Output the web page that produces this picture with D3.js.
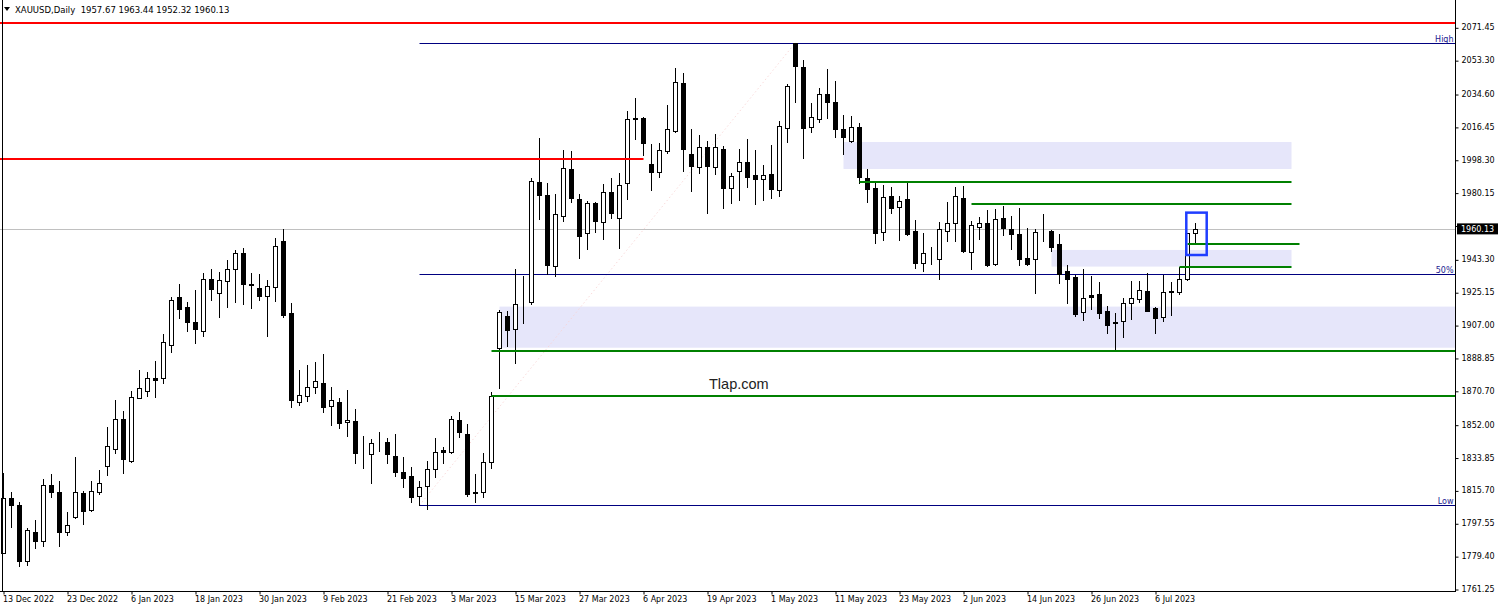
<!DOCTYPE html>
<html><head><meta charset="utf-8">
<script src="https://cdn.jsdelivr.net/npm/d3@7"></script>
<style>html,body{margin:0;padding:0;background:#fff;overflow:hidden}svg{display:block}</style>
</head><body>
<svg id="c" width="1501" height="612"></svg>
<script>
// ---- DATA ----
const title = "XAUUSD,Daily";
const lastOHLC = ["1957.67", "1963.44", "1952.32", "1960.13"];
const opens = [1781.3,1811.3,1807.6,1776.9,1792.6,1787.9,1818.7,1814.6,1792.9,1801.2,1814.1,1804.9,1815.0,1829.4,1838.8,1855.0,1832.1,1866.6,1870.8,1877.6,
1877.6,1895.8,1922.3,1916.8,1908.5,1903.5,1932.3,1924.5,1931.2,1937.8,1946.6,1929.5,1927.3,1923.0,1927.8,1953.4,1913.5,1864.7,1868.0,1873.0,
1874.8,1862.5,1864.3,1853.5,1854.0,1836.7,1835.8,1841.7,1842.6,1834.9,1825.7,1823.5,1812.6,1818.1,1827.4,1838.0,1836.7,1854.6,1846.9,1814.6,
1814.6,1831.2,1894.2,1912.0,1904.7,1919.9,1919.9,1986.0,1978.8,1939.8,1967.4,1993.2,1976.6,1957.7,1974.6,1964.1,1980.3,1966.3,1985.3,2021.5,
2021.5,1995.9,1991.3,2003.3,2014.2,2040.5,2001.5,1994.5,2005.2,1994.1,2004.3,1982.6,1992.3,1996.9,1989.9,1987.5,1990.3,1981.6,2016.0,2062.6,
2049.3,2016.2,2020.6,2034.6,2030.0,2015.3,2008.7,2016.2,1988.0,1982.5,1958.2,1978.3,1972.0,1976.4,1959.0,1941.1,1943.5,1943.3,1959.1,1963.6,
1977.0,1947.6,1961.4,1963.2,1940.5,1966.0,1959.9,1957.1,1943.9,1943.3,1957.9,1958.9,1951.8,1936.9,1933.4,1914.4,1923.4,1924.0,1914.8,1908.5,
1909.3,1919.0,1921.2,1925.8,1916.3,1911.3,1925.8,1925.5,1932.3,1957.67];
const highs = [1825.1,1814.6,1809.1,1794.8,1799.4,1822.0,1824.6,1820.9,1803.6,1833.9,1815.6,1820.9,1827.0,1850.5,1865.6,1859.4,1870.6,1882.2,1880.9,1887.2,
1902.1,1922.3,1929.7,1919.9,1926.4,1935.9,1938.0,1936.5,1942.9,1948.4,1949.4,1935.9,1935.2,1931.9,1955.3,1960.1,1919.0,1882.2,1884.9,1886.8,
1891.0,1873.0,1867.0,1871.1,1860.5,1845.8,1843.9,1847.8,1844.5,1846.7,1834.4,1828.5,1820.9,1831.9,1844.8,1839.5,1856.8,1858.8,1852.4,1824.8,
1836.2,1870.2,1915.3,1914.8,1937.8,1934.1,1988.0,2010.5,1985.7,1979.4,2003.7,2003.2,1979.4,1975.5,1975.2,1984.9,1988.0,1991.1,2025.2,2032.6,
2022.1,2006.8,2007.4,2028.5,2048.8,2046.0,2015.3,2012.0,2008.7,2012.5,2005.9,1990.8,2004.2,2009.8,2003.7,1995.4,2006.5,2019.9,2039.9,2063.0,
2053.4,2029.8,2037.8,2048.4,2041.8,2023.0,2022.5,2018.4,1993.2,1986.2,1984.4,1983.1,1978.3,1985.7,1965.0,1957.7,1949.9,1963.8,1974.8,1983.1,
1983.8,1964.5,1966.5,1970.6,1970.9,1973.0,1967.2,1971.5,1960.4,1959.9,1968.2,1959.5,1957.3,1940.2,1934.7,1938.0,1934.1,1930.6,1917.5,1913.5,
1922.1,1931.3,1931.3,1935.9,1916.8,1934.7,1931.0,1939.3,1958.0,1963.44];
const lows = [1781.0,1795.7,1774.1,1774.5,1784.1,1785.2,1812.3,1785.2,1791.1,1800.6,1797.2,1804.5,1813.7,1824.2,1836.6,1825.5,1831.6,1866.6,1868.0,1867.5,
1875.2,1892.3,1911.1,1903.9,1896.9,1901.2,1920.9,1911.6,1917.2,1919.9,1918.6,1916.6,1920.9,1901.2,1920.5,1911.6,1861.9,1862.9,1865.3,1869.3,
1859.2,1852.0,1850.0,1846.0,1831.0,1827.9,1819.6,1837.5,1830.7,1823.9,1817.8,1809.5,1807.5,1805.3,1823.3,1831.0,1836.2,1845.4,1812.8,1809.5,
1812.3,1827.9,1872.1,1895.6,1885.9,1908.3,1918.5,1965.6,1935.0,1934.3,1964.6,1975.2,1944.2,1949.0,1958.6,1954.5,1965.9,1949.8,1976.6,2009.8,
2000.9,1981.6,1988.6,2001.9,2013.8,1992.1,1981.1,1991.2,1969.1,1990.4,1971.9,1974.2,1976.1,1983.5,1973.9,1976.1,1977.4,1978.5,2008.3,2030.4,
1999.5,2013.8,2019.3,2021.6,2011.1,2001.3,2008.3,1985.6,1975.2,1952.2,1954.0,1969.1,1954.0,1956.8,1938.7,1937.1,1940.6,1932.3,1953.6,1953.6,
1947.5,1938.0,1954.5,1939.6,1940.2,1956.8,1949.0,1940.2,1940.2,1924.9,1953.6,1948.1,1930.1,1919.4,1912.0,1909.8,1915.7,1911.1,1902.8,1892.9,
1900.6,1910.2,1919.9,1915.0,1902.8,1909.4,1912.6,1924.2,1931.9,1952.32];
const closes = [1811.3,1807.6,1776.9,1793.8,1787.9,1818.7,1815.0,1792.9,1796.6,1814.6,1804.5,1815.4,1819.6,1840.0,1855.0,1833.2,1867.1,1872.1,1877.6,1876.7,
1897.5,1920.7,1915.7,1908.5,1904.6,1932.3,1927.1,1931.7,1937.8,1946.6,1929.5,1928.9,1923.2,1928.6,1950.7,1912.6,1865.6,1868.4,1872.6,1876.1,
1861.6,1865.6,1853.0,1854.5,1836.5,1836.9,1842.1,1841.8,1835.6,1825.7,1822.7,1811.9,1817.8,1827.4,1837.1,1836.7,1855.0,1847.8,1813.7,1814.1,
1831.2,1867.8,1914.0,1904.1,1918.5,1919.6,1986.6,1978.8,1940.1,1968.2,1993.6,1977.4,1956.4,1974.2,1964.6,1980.3,1969.1,1984.4,2020.8,2020.6,
2007.7,1991.3,2003.7,2015.3,2041.1,2004.2,1995.0,2005.1,1995.0,2005.2,1982.9,1989.3,1996.9,1989.0,1987.7,1989.7,1982.2,2016.9,2039.0,2050.3,
2016.0,2021.7,2034.4,2030.0,2015.1,2010.7,2016.2,1988.6,1982.0,1957.7,1977.5,1971.8,1975.3,1957.3,1941.1,1946.6,1943.3,1959.9,1963.2,1978.3,
1948.1,1962.1,1963.2,1940.2,1965.4,1960.8,1957.1,1943.3,1940.6,1958.2,1957.7,1950.3,1935.2,1932.5,1913.1,1921.8,1922.7,1913.5,1907.1,1908.0,
1919.4,1921.8,1926.4,1915.0,1910.7,1925.1,1925.1,1932.3,1957.7,1960.13];

const priceTicks = ["2071.45","2053.30","2034.60","2016.45","1998.30","1980.15","1962.00","1943.30","1925.15","1907.00","1888.85","1870.70","1852.00","1833.85","1815.70","1797.55","1779.40","1761.25"];
const dateLabels = ["13 Dec 2022","23 Dec 2022","6 Jan 2023","18 Jan 2023","30 Jan 2023","9 Feb 2023","21 Feb 2023","3 Mar 2023","15 Mar 2023","27 Mar 2023","6 Apr 2023","19 Apr 2023","1 May 2023","11 May 2023","23 May 2023","2 Jun 2023","14 Jun 2023","26 Jun 2023","6 Jul 2023"];
const dateLabelBars = [0,8,16,24,32,40,48,56,64,72,80,88,96,104,112,120,128,136,144];

// chart objects: [price, startBar, endBar] (endBar null = to right edge)
const redLevels = [[2074.1, null, null], [1998.7, null, 80]];
const greenLevels = [[1986.1, 107, 161], [1973.7, 121, 161], [1951.6, 148, 162], [1939.3, 147, 161], [1892.9, 61, null], [1868.0, 61, null]];
const zones = [[2008.1, 1993.2, 105, 161], [1948.5, 1939.3, 131, 161], [1917.2, 1894.5, 62, null]];
const fibLow = [52, 1807.5], fibHigh = [99, 2063.0];
const fibLevels = [["High", 1], ["50%", 0.5], ["Low", 0]];
const currentPrice = 1960.13;
const boxBars = [147.85, 150.4], boxPrices = [1969.1, 1945.7];
const watermark = "Tlap.com";

// ---- DRAW ----
const svg = d3.select("#c");
const plotR = 1455.5, plotB = 591.5;
const x = d3.scaleLinear().domain([0, 149]).range([3.5, 3.5 + 8 * 149]);
const y = d3.scaleLinear().domain([1761.25, 2071.45]).range([589, 27.3]);
const py = p => Math.round(y(p)) + 0.5;
const xs = b => b === null ? plotR : x(b);
const font = "DejaVu Sans, Verdana, sans-serif";

svg.append("defs").append("clipPath").attr("id", "pc")
  .append("rect").attr("x", 0).attr("y", 0).attr("width", plotR).attr("height", plotB);
const g = svg.append("g").attr("clip-path", "url(#pc)");

// zones
g.selectAll("rect.zone").data(zones).enter().append("rect")
  .attr("x", d => xs(d[2])).attr("width", d => xs(d[3]) - xs(d[2]))
  .attr("y", d => y(d[0])).attr("height", d => y(d[1]) - y(d[0]))
  .attr("fill", "#e6e6fa");

// current price line
g.append("line").attr("x1", 0).attr("x2", plotR).attr("y1", py(currentPrice)).attr("y2", py(currentPrice))
  .attr("stroke", "#c0c0c0").attr("stroke-width", 1);

// fibo diagonal (faint dotted)
g.append("line").attr("x1", x(fibLow[0])).attr("y1", y(fibLow[1])).attr("x2", x(fibHigh[0])).attr("y2", y(fibHigh[1]))
  .attr("stroke", "#f7d2d2").attr("stroke-width", 0.8).attr("stroke-dasharray", "1.5,2.5");

// fibo levels
fibLevels.forEach(([lab, r]) => {
  const p = fibLow[1] + (fibHigh[1] - fibLow[1]) * r;
  g.append("line").attr("x1", x(fibLow[0])).attr("x2", plotR).attr("y1", py(p)).attr("y2", py(p))
    .attr("stroke", "#000080").attr("stroke-width", 1);
  g.append("text").attr("x", plotR - 2).attr("y", py(p) - 2).attr("text-anchor", "end")
    .attr("font-family", font).attr("font-size", 8).attr("fill", "#1a1a90").text(lab);
});

// candles
const idx = d3.range(closes.length);
const cg = g.append("g");
cg.selectAll("line.wick").data(idx).enter().append("line")
  .attr("x1", i => x(i)).attr("x2", i => x(i))
  .attr("y1", i => Math.round(y(highs[i]))).attr("y2", i => Math.round(y(lows[i])) + 1)
  .attr("stroke", "#000").attr("stroke-width", 1);
cg.selectAll("rect.body").data(idx).enter().append("rect")
  .attr("x", i => x(i) - 2)
  .attr("width", 4)
  .attr("y", i => py(Math.max(opens[i], closes[i])))
  .attr("height", i => Math.max(0, py(Math.min(opens[i], closes[i])) - py(Math.max(opens[i], closes[i]))))
  .attr("fill", i => closes[i] >= opens[i] ? "#fff" : "#000")
  .attr("stroke", "#000").attr("stroke-width", 1);

// red lines
g.selectAll("line.red").data(redLevels).enter().append("line")
  .attr("x1", d => d[1] === null ? 0 : x(d[1])).attr("x2", d => xs(d[2]))
  .attr("y1", d => Math.round(y(d[0]))).attr("y2", d => Math.round(y(d[0])))
  .attr("stroke", "#ff0000").attr("stroke-width", 2);

// green lines
g.selectAll("line.green").data(greenLevels).enter().append("line")
  .attr("x1", d => x(d[1])).attr("x2", d => xs(d[2]))
  .attr("y1", d => Math.round(y(d[0]))).attr("y2", d => Math.round(y(d[0])))
  .attr("stroke", "#008000").attr("stroke-width", 2);

// blue box
g.append("rect").attr("x", x(boxBars[0])).attr("width", x(boxBars[1]) - x(boxBars[0]))
  .attr("y", y(boxPrices[0])).attr("height", y(boxPrices[1]) - y(boxPrices[0]))
  .attr("fill", "none").attr("stroke", "#1f3dff").attr("stroke-width", 2.5);

// watermark
g.append("text").attr("x", 709).attr("y", 389).attr("font-family", "Liberation Sans, Arial, sans-serif")
  .attr("font-size", 14.5).attr("fill", "#222").text(watermark);

// frame
svg.append("line").attr("x1", 2.5).attr("x2", 2.5).attr("y1", 0).attr("y2", plotB).attr("stroke", "#000");
svg.append("line").attr("x1", plotR).attr("x2", plotR).attr("y1", 0).attr("y2", plotB + 0.5).attr("stroke", "#000");
svg.append("line").attr("x1", 0).attr("x2", plotR).attr("y1", plotB).attr("y2", plotB).attr("stroke", "#000");

// right axis (the label hidden under the current-price tag is left out)
const yAxis = d3.axisRight(y).tickValues(priceTicks.map(Number)).tickSize(3).tickPadding(3)
  .tickFormat((d, i) => Math.abs(d - currentPrice) < 5 ? "" : priceTicks[i]);
const ya = svg.append("g").attr("transform", `translate(${plotR},0)`).call(yAxis);
ya.select(".domain").remove();
ya.selectAll("line").attr("stroke", "#000").attr("transform", "translate(0,0.5)");
ya.selectAll("text").attr("font-family", font).attr("font-size", 8).attr("fill", "#000");

// current price tag
svg.append("rect").attr("x", 1457).attr("y", y(currentPrice) - 5.5).attr("width", 41).attr("height", 11).attr("fill", "#000");
svg.append("text").attr("x", 1461).attr("y", y(currentPrice) + 3).attr("font-family", font).attr("font-size", 8)
  .attr("fill", "#fff").text(currentPrice.toFixed(2));

// bottom axis
const xAxis = d3.axisBottom(x).tickValues(dateLabelBars).tickSize(3).tickPadding(2)
  .tickFormat((d, i) => dateLabels[i]);
const xa = svg.append("g").attr("transform", `translate(0,${plotB})`).call(xAxis);
xa.select(".domain").remove();
xa.selectAll("line").attr("stroke", "#000");
xa.selectAll("text").attr("font-family", font).attr("font-size", 8).attr("fill", "#000")
  .attr("text-anchor", "start").attr("dx", -1);

// header
svg.append("path").attr("d", "M4,7 L10,7 L7,11 Z").attr("fill", "#000");
svg.append("text").attr("x", 15).attr("y", 13).attr("font-family", font).attr("font-size", 8.5).attr("fill", "#000")
  .attr("xml:space", "preserve").text(title + "  " + lastOHLC.join(" "));
</script>
</body></html>
